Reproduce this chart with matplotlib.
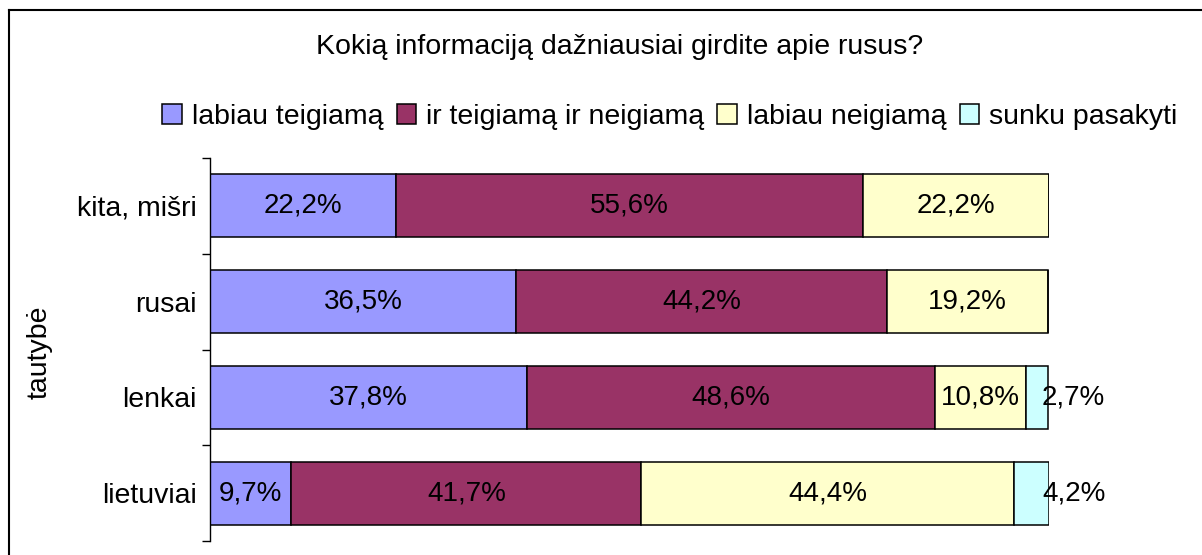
import matplotlib
matplotlib.use("Agg")
import matplotlib.pyplot as plt
from matplotlib.patches import Rectangle
from matplotlib.lines import Line2D

plt.rcParams['font.family'] = ['Liberation Sans', 'DejaVu Sans']

# duomenys (%)
kategorijos = ["lietuviai", "lenkai", "rusai", "kita, mišri"]
serijos = ["labiau teigiamą", "ir teigiamą ir neigiamą", "labiau neigiamą", "sunku pasakyti"]
labiau_teigiama = [9.7, 37.8, 36.5, 22.2]
ir_teig_ir_neig = [41.7, 48.6, 44.2, 55.6]
labiau_neigiama = [44.4, 10.8, 19.2, 22.2]
sunku_pasakyti = [4.2, 2.7, 0.0, 0.0]
spalvos = ["#9999FF", "#993366", "#FFFFCC", "#CCFFFF"]

FS = 20.5

W, H = 1202, 555
fig = plt.figure(figsize=(W / 100, H / 100), dpi=100)
ax = fig.add_axes([210 / W, 1 - 541 / H, 839 / W, 383 / H])

y = list(range(len(kategorijos)))
kaire = [0.0] * len(kategorijos)
for vals, spalva in zip([labiau_teigiama, ir_teig_ir_neig, labiau_neigiama, sunku_pasakyti], spalvos):
    ax.barh(y, vals, left=kaire, height=0.66, color=spalva, edgecolor="black", linewidth=1.1)
    for i, v in enumerate(vals):
        if v <= 0:
            continue
        txt = f"{v:.1f}%".replace(".", ",")
        if v < 5:
            ax.text(kaire[i] + v - 0.8, i, txt, ha="left", va="center", fontsize=20)
        else:
            ax.text(kaire[i] + v / 2, i, txt, ha="center", va="center", fontsize=20)
    kaire = [k + v for k, v in zip(kaire, vals)]

ax.set_xlim(0, 100)
ax.set_ylim(-0.5, len(kategorijos) - 0.5)
ax.set_yticks(y)
ax.set_yticklabels(kategorijos, fontsize=FS)
ax.set_yticks([i - 0.5 for i in range(len(kategorijos) + 1)], minor=True)
ax.tick_params(axis="y", which="major", length=0, pad=9.5)
ax.tick_params(axis="y", which="minor", length=6, width=1)
ax.set_xticks([])
for s in ["top", "right", "bottom"]:
    ax.spines[s].set_visible(False)
ax.spines["left"].set_linewidth(1)

fig.text(40 / W, 1 - 352 / H, "tautybė", rotation=90, ha="center", va="center", fontsize=FS)
fig.text(620 / W, 1 - 47 / H, "Kokią informaciją dažniausiai girdite apie rusus?",
         ha="center", va="center", fontsize=FS)

rankenos = [Rectangle((0, 0), 1, 1, facecolor=c, edgecolor="black", linewidth=1.1) for c in spalvos]
fig.legend(rankenos, serijos, loc="center", bbox_to_anchor=(670 / W, 1 - 117 / H), ncol=4,
           frameon=False, fontsize=FS, handlelength=0.7, handleheight=0.7,
           handletextpad=0.35, columnspacing=0.45, borderaxespad=0)

# rėmelis
fig.add_artist(Line2D([9 / W, 9 / W], [-0.1, 1 - 10 / H], transform=fig.transFigure, color="black", linewidth=1.5))
fig.add_artist(Line2D([9 / W, 1.1], [1 - 10 / H, 1 - 10 / H], transform=fig.transFigure, color="black", linewidth=1.5))

fig.savefig("out.png", dpi=100)
